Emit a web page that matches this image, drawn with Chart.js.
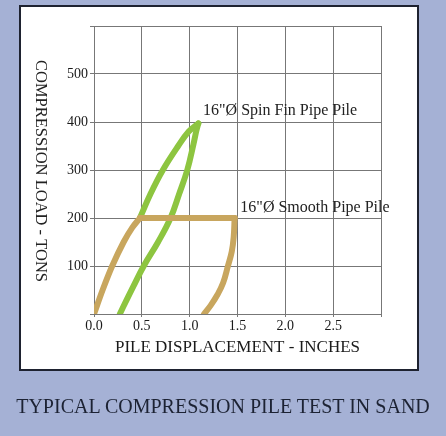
<!DOCTYPE html>
<html>
<head>
<meta charset="utf-8">
<script src="https://cdn.jsdelivr.net/npm/chart.js@4/dist/chart.umd.min.js"></script>
<style>
  html, body { margin: 0; padding: 0; }
  body { width: 446px; height: 436px; background: #a5b1d5; position: relative; overflow: hidden; }
  #panel { position: absolute; left: 19px; top: 5px; width: 396px; height: 362px; background: #fff; border: 2px solid #1e2230; }
  #wrap { position: absolute; left: 0; top: 0; width: 446px; height: 436px; }
  #caption { position: absolute; left: 0; width: 446px; top: 395px; text-align: center;
    font-family: 'Liberation Serif', serif; font-size: 20px; color: #1c2233; white-space: nowrap; }
</style>
</head>
<body>
<div id="panel"></div>
<div id="wrap"><canvas id="pile"></canvas></div>
<div id="caption">TYPICAL COMPRESSION PILE TEST IN SAND</div>
<script>
/* Compression pile test — load vs displacement */

const SERIF = "'Liberation Serif', serif";

// 16" smooth pipe pile: loading, hold at 200 t, unloading
const smoothLoadDisp = [0, 0.09, 0.19, 0.31, 0.40, 0.48];
const smoothLoadTons = [0, 50, 100, 150, 180, 200];
const smoothHoldDisp = [0.48, 1.47];
const smoothHoldTons = [200, 200];
const smoothUnloadDisp = [1.47, 1.46, 1.44, 1.40, 1.35, 1.29, 1.22, 1.15];
const smoothUnloadTons = [200, 160, 130, 100, 65, 40, 18, 0];

// 16" spin fin pipe pile: loading above 200 t (below it runs under the smooth curve), then unloading
const spinLoadDisp = [0.48, 0.59, 0.72, 0.88, 0.99, 1.09];
const spinLoadTons = [200, 250, 300, 350, 380, 397];
const spinUnloadDisp = [1.09, 1.07, 1.04, 0.975, 0.89, 0.80, 0.67, 0.52, 0.41, 0.34, 0.27];
const spinUnloadTons = [397, 382, 354, 300, 250, 200, 150, 100, 57, 29, 0];

const curveLabels = [
  { text: '16"\u00D8 Spin Fin Pipe Pile', x: 1.14, y: 424 },
  { text: '16"\u00D8 Smooth Pipe Pile', x: 1.53, y: 221 },
];

const COLOR_SMOOTH = '#c8a65e';
const COLOR_SPIN = '#8dc540';

function toPoints(xs, ys) { return xs.map((x, i) => ({ x: x, y: ys[i] })); }

function curve(xs, ys, color, tension) {
  return { data: toPoints(xs, ys), showLine: true, borderColor: color, borderWidth: 6,
    pointRadius: 0, tension: tension, borderCapStyle: 'round', borderJoinStyle: 'round' };
}

const labelPlugin = {
  id: 'curveLabels',
  afterDatasetsDraw(chart) {
    const { ctx, scales: { x, y } } = chart;
    ctx.save();
    ctx.font = '16px ' + SERIF;
    ctx.fillStyle = '#222';
    ctx.textAlign = 'left';
    ctx.textBaseline = 'middle';
    curveLabels.forEach(l => ctx.fillText(l.text, x.getPixelForValue(l.x), y.getPixelForValue(l.y)));
    // y axis title reads top to bottom
    ctx.translate(40, 171);
    ctx.rotate(Math.PI / 2);
    ctx.textAlign = 'center';
    ctx.font = '16.5px ' + SERIF;
    ctx.fillText('COMPRESSION LOAD - TONS', 0, 0);
    ctx.restore();
  }
};

new Chart(document.getElementById('pile'), {
  type: 'scatter',
  data: {
    datasets: [
      curve(smoothLoadDisp, smoothLoadTons, COLOR_SMOOTH, 0.3),
      curve(smoothHoldDisp, smoothHoldTons, COLOR_SMOOTH, 0),
      curve(smoothUnloadDisp, smoothUnloadTons, COLOR_SMOOTH, 0.4),
      curve(spinLoadDisp, spinLoadTons, COLOR_SPIN, 0.4),
      curve(spinUnloadDisp, spinUnloadTons, COLOR_SPIN, 0.4),
    ]
  },
  options: {
    responsive: true, maintainAspectRatio: false, animation: false,
    layout: { padding: { left: 60, top: 26, right: 65, bottom: 72 } },
    plugins: { legend: { display: false }, tooltip: { enabled: false } },
    scales: {
      x: {
        type: 'linear', min: 0, max: 3,
        afterFit: s => { s.height = 50; },
        grid: { color: '#777', lineWidth: 1, tickLength: 3 },
        border: { color: '#777' },
        ticks: { stepSize: 0.5, padding: 1, color: '#1a1a1a', font: { family: SERIF, size: 14 },
          callback: v => v >= 3 ? '' : v.toFixed(1) },
        title: { display: true, text: 'PILE DISPLACEMENT - INCHES', color: '#1a1a1a',
          font: { family: SERIF, size: 17 }, padding: { top: 0, bottom: 6 } }
      },
      y: {
        min: 0, max: 600,
        afterFit: s => { s.width = 34; },
        grid: { color: '#777', lineWidth: 1, tickLength: 4 },
        border: { color: '#777' },
        ticks: { stepSize: 100, padding: 2, color: '#1a1a1a', font: { family: SERIF, size: 14 },
          callback: v => (v === 0 || v === 600) ? '' : v }
      }
    }
  },
  plugins: [labelPlugin]
});
</script>
</body>
</html>
